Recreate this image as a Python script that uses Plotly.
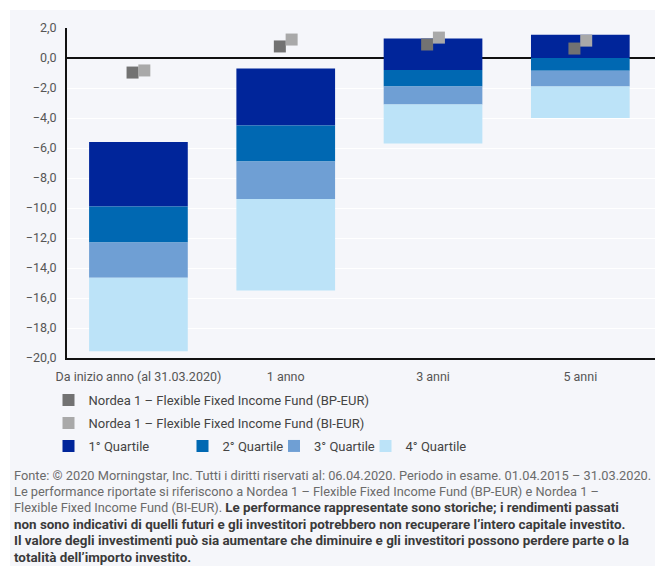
import plotly.graph_objects as go

# ---------------- data ----------------
categories = ["Da inizio anno (al 31.03.2020)", "1 anno", "3 anni", "5 anni"]
q1_top = [-5.6, -0.7, 1.3, 1.55]
q1_q2 = [-9.9, -4.5, -0.8, 0.0]
q2_q3 = [-12.3, -6.9, -1.9, -0.85]
q3_q4 = [-14.65, -9.4, -3.1, -1.9]
q4_bottom = [-19.55, -15.5, -5.7, -4.0]

fund_bp = [-0.97, 0.77, 0.90, 0.63]
fund_bi = [-0.83, 1.23, 1.36, 1.16]

y_tickvals = [2, 0, -2, -4, -6, -8, -10, -12, -14, -16, -18, -20]

quartile_names = ["1° Quartile", "2° Quartile", "3° Quartile", "4° Quartile"]
fund_names = ["Nordea 1 – Flexible Fixed Income Fund (BP-EUR)",
              "Nordea 1 – Flexible Fixed Income Fund (BI-EUR)"]

footnote_regular = [
    "Fonte: © 2020 Morningstar, Inc. Tutti i diritti riservati al: 06.04.2020. Periodo in esame. 01.04.2015 – 31.03.2020.",
    "Le performance riportate si riferiscono a Nordea 1 – Flexible Fixed Income Fund (BP-EUR) e Nordea 1 –",
    "Flexible Fixed Income Fund (BI-EUR). ",
    "",
    "",
    "",
]
footnote_bold = [
    "",
    "",
    "Le performance rappresentate sono storiche; i rendimenti passati",
    "non sono indicativi di quelli futuri e gli investitori potrebbero non recuperare l’intero capitale investito.",
    "Il valore degli investimenti può sia aumentare che diminuire e gli investitori possono perdere parte o la",
    "totalità dell’importo investito.",
]

# ---------------- style ----------------
W, H = 655, 566
L, R, T, B = 67, 0, 28, 208
PW, PH = W - L - R, H - T - B
BG = "#f5f6fa"
q_colors = ["#00259a", "#0068b2", "#6f9fd4", "#bce3f8"]
fund_colors = ["#727272", "#a9a9a9"]
TXT = "#555555"
FONT = "Roboto, 'Open Sans', sans-serif"
REG_SIZE, BOLD_SIZE = 12.8, 13.4


def xp(px):
    return (px - L) / PW


def yp(py):
    return (H - B - py) / PH


x_idx = list(range(len(categories)))
bounds = [q1_top, q1_q2, q2_q3, q3_q4, q4_bottom]

fig = go.Figure()

for i in range(4):
    top = bounds[i]
    bot = bounds[i + 1]
    fig.add_trace(go.Bar(
        x=x_idx,
        y=[t - b for t, b in zip(top, bot)],
        base=bot,
        width=0.67,
        marker=dict(color=q_colors[i], line=dict(width=0)),
        name=quartile_names[i],
        legend="legend%d" % (i + 3),
        hoverinfo="skip",
    ))

off = 0.04
for j, (vals, sgn) in enumerate([(fund_bp, -1), (fund_bi, 1)]):
    fig.add_trace(go.Scatter(
        x=[k + sgn * off for k in x_idx],
        y=vals,
        mode="markers",
        marker=dict(symbol="square", size=12, color=fund_colors[j], line=dict(width=0)),
        name=fund_names[j],
        legend="legend" if j == 0 else "legend2",
    ))

# background panel
fig.add_shape(type="rect", xref="paper", yref="paper",
              x0=xp(10), x1=xp(W + 5), y0=yp(H + 5), y1=yp(10),
              fillcolor=BG, line=dict(width=0), layer="below")

for k, (reg, bold) in enumerate(zip(footnote_regular, footnote_bold)):
    parts = ""
    if reg:
        parts += "<span style='font-size:%spx'>%s</span>" % (REG_SIZE, reg)
    if bold:
        parts += "<b><span style='color:#3a3a3a;font-size:%spx'>%s</span></b>" % (BOLD_SIZE, bold)
    fig.add_annotation(
        xref="paper", yref="paper", x=xp(12), y=yp(475 + k * 16.4),
        xanchor="left", yanchor="middle", showarrow=False, align="left",
        text=parts, font=dict(family=FONT, size=REG_SIZE, color="#6b6b6b"),
    )

leg_font = dict(family=FONT, size=13, color="#444444")


def leg(xc, yc):
    return dict(x=xp(xc - 25), y=yp(yc), xanchor="left", yanchor="middle",
                orientation="v", bgcolor="rgba(0,0,0,0)", font=leg_font,
                itemclick=False, itemdoubleclick=False)


fig.update_layout(
    width=W, height=H,
    margin=dict(l=L, r=R, t=T, b=B),
    paper_bgcolor="white",
    plot_bgcolor=BG,
    barmode="overlay",
    separators=",.",
    font=dict(family=FONT, size=12.5, color=TXT),
    showlegend=True,
    legend=leg(73.5, 400),
    legend2=leg(73.5, 423),
    legend3=leg(73.5, 446),
    legend4=leg(207.5, 446),
    legend5=leg(299, 446),
    legend6=leg(390.5, 446),
    xaxis=dict(
        range=[-0.485, 3.507],
        tickvals=x_idx, ticktext=categories,
        showgrid=False, zeroline=False,
        showline=True, linecolor="#111111", linewidth=2,
        ticks="outside", ticklen=6, tickcolor="rgba(0,0,0,0)",
        tickfont=dict(family=FONT, size=12.5, color=TXT),
        fixedrange=True,
    ),
    yaxis=dict(
        range=[-20, 2],
        tickvals=y_tickvals, tickformat=".1f",
        showgrid=True, gridcolor="white", gridwidth=1.2,
        zeroline=True, zerolinecolor="#111111", zerolinewidth=2,
        showline=True, linecolor="#111111", linewidth=2,
        ticks="outside", ticklen=6, tickcolor="rgba(0,0,0,0)",
        tickfont=dict(family=FONT, size=12.5, color=TXT),
        fixedrange=True,
    ),
)

fig.write_html("out.html")
